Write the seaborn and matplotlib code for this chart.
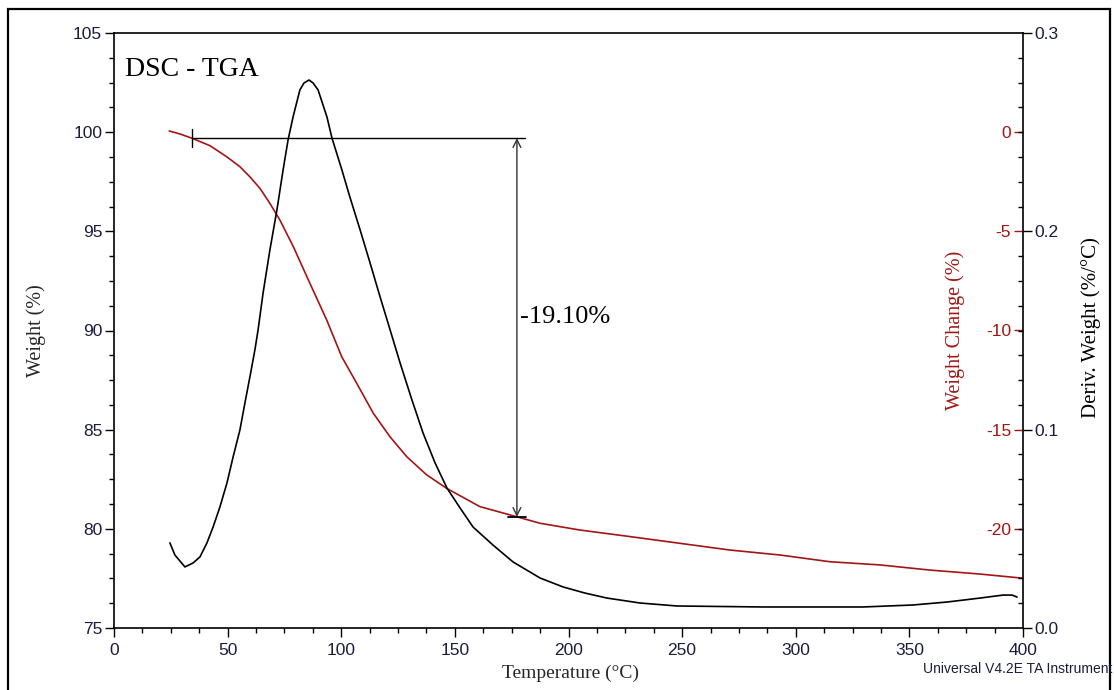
import matplotlib

matplotlib.use("Agg")
import matplotlib.pyplot as plt
import pandas as pd
import seaborn as sns
from matplotlib.patches import Rectangle
from matplotlib.ticker import FormatStrFormatter, MultipleLocator

# TGA weight curve (red)
temp_weight = [24.3, 29.0, 34.4, 42.2, 49.6, 55.4, 59.8, 64.2, 68.6, 73.0, 78.9, 86.2,
               93.6, 100.2, 106.8, 114.1, 121.4, 128.8, 137.6, 146.4, 161.0, 177.2,
               187.5, 205.0, 227.0, 249.0, 271.1, 293.1, 315.1, 337.1, 359.1, 381.1, 400.0]
weight_pct = [100.06, 99.91, 99.69, 99.32, 98.76, 98.26, 97.75, 97.17, 96.41, 95.57,
              94.23, 92.38, 90.53, 88.68, 87.34, 85.83, 84.65, 83.64, 82.72, 82.04,
              81.12, 80.61, 80.28, 79.94, 79.61, 79.27, 78.93, 78.68, 78.34, 78.18,
              77.92, 77.72, 77.51]

# derivative weight curve (black)
temp_deriv = [24.6, 26.8, 31.2, 34.8, 37.8, 40.9, 43.6, 46.6, 49.7, 52.4, 55.4, 57.6,
              59.8, 62.0, 63.4, 65.6, 68.6, 71.7, 74.4, 76.6, 78.8, 81.8, 83.6, 85.8,
              87.6, 89.8, 93.7, 95.9, 100.3, 103.8, 108.3, 112.7, 117.1, 121.5, 125.9,
              131.1, 136.0, 141.3, 146.5, 152.3, 158.0, 166.8, 175.6, 187.5, 197.6,
              207.3, 216.9, 231.5, 247.7, 285.6, 329.6, 351.6, 366.6, 381.1, 391.2,
              395.2, 397.4]
deriv_weight = [0.0429, 0.0368, 0.0308, 0.0328, 0.0358, 0.0429, 0.0509, 0.0610, 0.0731,
                0.0862, 0.0998, 0.1134, 0.1266, 0.1402, 0.1503, 0.1689, 0.1906, 0.2108,
                0.2309, 0.2461, 0.2577, 0.2713, 0.2748, 0.2763, 0.2748, 0.2713, 0.2577,
                0.2471, 0.2309, 0.2173, 0.2007, 0.1840, 0.1669, 0.1503, 0.1336, 0.1150,
                0.0983, 0.0832, 0.0706, 0.0605, 0.0509, 0.0418, 0.0333, 0.0252, 0.0207,
                0.0176, 0.0151, 0.0126, 0.0111, 0.0106, 0.0106, 0.0116, 0.0131, 0.0151,
                0.0166, 0.0166, 0.0156]

# step analysis
onset_temp = 34.3
end_temp = 177.3
onset_weight = 99.7
weight_loss = 19.10
end_weight = onset_weight - weight_loss

RED = "#a31515"
TICK_TXT = "#1c1c3c"

sns.set_style("white")
plt.rcParams["font.family"] = ["Liberation Sans", "DejaVu Sans"]
plt.rcParams["axes.unicode_minus"] = False
serif = ["Liberation Serif", "DejaVu Serif"]

fig = plt.figure(figsize=(11.14, 6.90), dpi=100)
ax = fig.add_axes([114 / 1114, 1 - 628 / 690, 909 / 1114, 595 / 690])

df_w = pd.DataFrame({"T": temp_weight, "w": weight_pct})
df_d = pd.DataFrame({"T": temp_deriv, "d": deriv_weight})

sns.lineplot(data=df_w, x="T", y="w", ax=ax, color=RED, lw=1.2,
             sort=False, estimator=None)
ax.set_xlim(0, 400)
ax.set_ylim(75, 105)
ax.xaxis.set_major_locator(MultipleLocator(50))
ax.xaxis.set_minor_locator(MultipleLocator(12.5))
ax.yaxis.set_major_locator(MultipleLocator(5))
ax.yaxis.set_minor_locator(MultipleLocator(1.25))
ax.tick_params(which="major", direction="out", length=6.5, width=1, color="black",
               labelsize=12.5, labelcolor=TICK_TXT, pad=2, left=True, bottom=True)
ax.tick_params(axis="x", which="major", pad=4)
ax.tick_params(which="minor", direction="out", length=3.5, width=1, color="black",
               left=True, bottom=True)
for s in ax.spines.values():
    s.set_color("black")
    s.set_linewidth(1.2)
ax.spines["right"].set_visible(False)

ax.set_xlabel("Temperature (°C)", family=serif, fontsize=14)
ax.xaxis.set_label_coords(0.502, -0.062)
ax.set_ylabel("Weight (%)", family=serif, fontsize=14.5)
ax.yaxis.set_label_coords(-0.0745, 0.5)

# weight change axis: labels inside, on the right spine
ax2 = ax.twinx()
ax2.set_ylim(-25, 5)
ax2.yaxis.tick_left()
ax2.spines["left"].set_position(("axes", 1.0))
for name in ["left", "right", "top", "bottom"]:
    ax2.spines[name].set_visible(False)
ax2.set_yticks([0, -5, -10, -15, -20])
ax2.tick_params(axis="y", which="major", direction="out", length=6.5, width=1,
                color=RED, labelcolor=RED, labelsize=12.5, pad=2, left=True)
ax2.grid(False)

# derivative axis
ax3 = ax.twinx()
sns.lineplot(data=df_d, x="T", y="d", ax=ax3, color="black", lw=1.2,
             sort=False, estimator=None)
ax3.set_ylim(0, 0.3)
ax3.set_xlim(0, 400)
ax3.yaxis.set_major_locator(MultipleLocator(0.1))
ax3.yaxis.set_minor_locator(MultipleLocator(0.0125))
ax3.yaxis.set_major_formatter(FormatStrFormatter("%.1f"))
ax3.tick_params(axis="y", which="major", direction="out", length=6.5, width=1,
                color="black", labelcolor=TICK_TXT, labelsize=12.5, pad=2, right=True)
ax3.tick_params(axis="y", which="minor", direction="in", length=3.5, width=1,
                color="black", right=True)
for name in ["left", "top", "bottom"]:
    ax3.spines[name].set_visible(False)
ax3.spines["right"].set_color("black")
ax3.spines["right"].set_linewidth(1.2)
ax3.set_ylabel("")
ax3.grid(False)

# step annotation
ax.plot([onset_temp, end_temp + 3.5], [onset_weight, onset_weight], color="black", lw=1)
ax.plot([onset_temp, onset_temp], [onset_weight + 0.45, onset_weight - 0.45],
        color="black", lw=1)
ax.plot([end_temp - 4, end_temp + 4], [end_weight, end_weight], color="black", lw=1.3)
ax.annotate("", xy=(end_temp, end_weight), xytext=(end_temp, onset_weight),
            arrowprops=dict(arrowstyle="<->", color="#333333", lw=1,
                            shrinkA=0, shrinkB=0, mutation_scale=14))
ax.text(end_temp + 1.5, 90.7, f"-{weight_loss:.2f}%", family=serif, fontsize=19,
        va="center", ha="left", color="black")

ax.text(0.012, 0.96, "DSC - TGA", transform=ax.transAxes, family=serif, fontsize=20,
        va="top", ha="left", color="black")

fig.text(955 / 1114, 1 - 330 / 690, "Weight Change (%)", family=serif, fontsize=14.5,
         color=RED, rotation=90, ha="center", va="center")
fig.text(1091 / 1114, 1 - 328 / 690, "Deriv. Weight (%/°C)", family=serif,
         fontsize=15, color="black", rotation=90, ha="center", va="center")
fig.text(1112 / 1114, 1 - 669 / 690, "Universal V4.2E TA Instrument", fontsize=10,
         color=TICK_TXT, ha="right", va="center")

fig.add_artist(Rectangle((8 / 1114, -0.02), 1102 / 1114, 1 - 9 / 690 + 0.02,
                         transform=fig.transFigure, fill=False, lw=1.6,
                         edgecolor="black"))

fig.savefig("out.png", dpi=100)
plt.close(fig)
